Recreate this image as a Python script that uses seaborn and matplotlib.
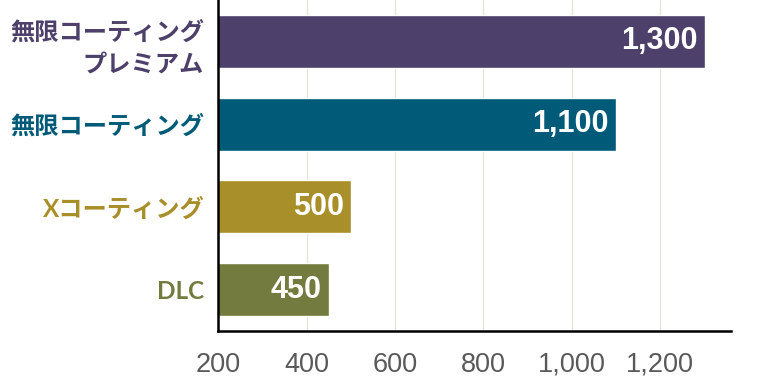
import numpy as np
import pandas as pd
import matplotlib
matplotlib.use("Agg")
import matplotlib.pyplot as plt
import seaborn as sns

# data
categories = ["無限コーティング\nプレミアム", "無限コーティング", "Xコーティング", "DLC"]
values = [1300, 1100, 500, 450]
colors = ["#4d416b", "#005a78", "#a88f2a", "#737c3e"]
xticks = [200, 400, 600, 800, 1000, 1200]

sns.set_style("white")
plt.rcParams['font.family'] = ['Liberation Sans', 'DejaVu Sans']

df = pd.DataFrame({"category": categories, "value": values})

fig = plt.figure(figsize=(7.68, 3.8), dpi=100)
ax = fig.add_axes([0.284, 0.129, 0.668, 0.871])

sns.barplot(data=df, x="value", y="category", hue="category", palette=colors,
            orient="h", width=0.64, legend=False, ax=ax, saturation=1)

ax.set_xlim(200, 1360)
ax.set_ylim(3.5, -0.5)
ax.set_xticks(xticks)
ax.set_xticklabels(["{:,}".format(t) for t in xticks], fontsize=19.5, color="#595959")
ax.set_xlabel("")
ax.set_ylabel("")

ax.xaxis.grid(True, color="#e6e6dc", linewidth=1)
ax.set_axisbelow(True)
ax.tick_params(axis="x", length=0, pad=15)
ax.tick_params(axis="y", length=0, pad=10)

for s in ["top", "right"]:
    ax.spines[s].set_visible(False)
for s in ["left", "bottom"]:
    ax.spines[s].set_color("black")
    ax.spines[s].set_linewidth(1.8)

ax.set_yticks(range(len(categories)))
ax.set_yticklabels(categories)
for lab, c in zip(ax.get_yticklabels(), colors):
    lab.set_color(c)
    lab.set_fontweight("bold")
    lab.set_fontsize(17.5)
    lab.set_family(["Lato", "Noto Sans CJK JP"])
    lab.set_multialignment("right")
    lab.set_linespacing(1.45)

for i, v in enumerate(values):
    ax.text(v - 16, i, "{:,}".format(v), ha="right", va="center",
            color="white", fontsize=22, fontweight="bold")

fig.savefig("out.png", dpi=100)
